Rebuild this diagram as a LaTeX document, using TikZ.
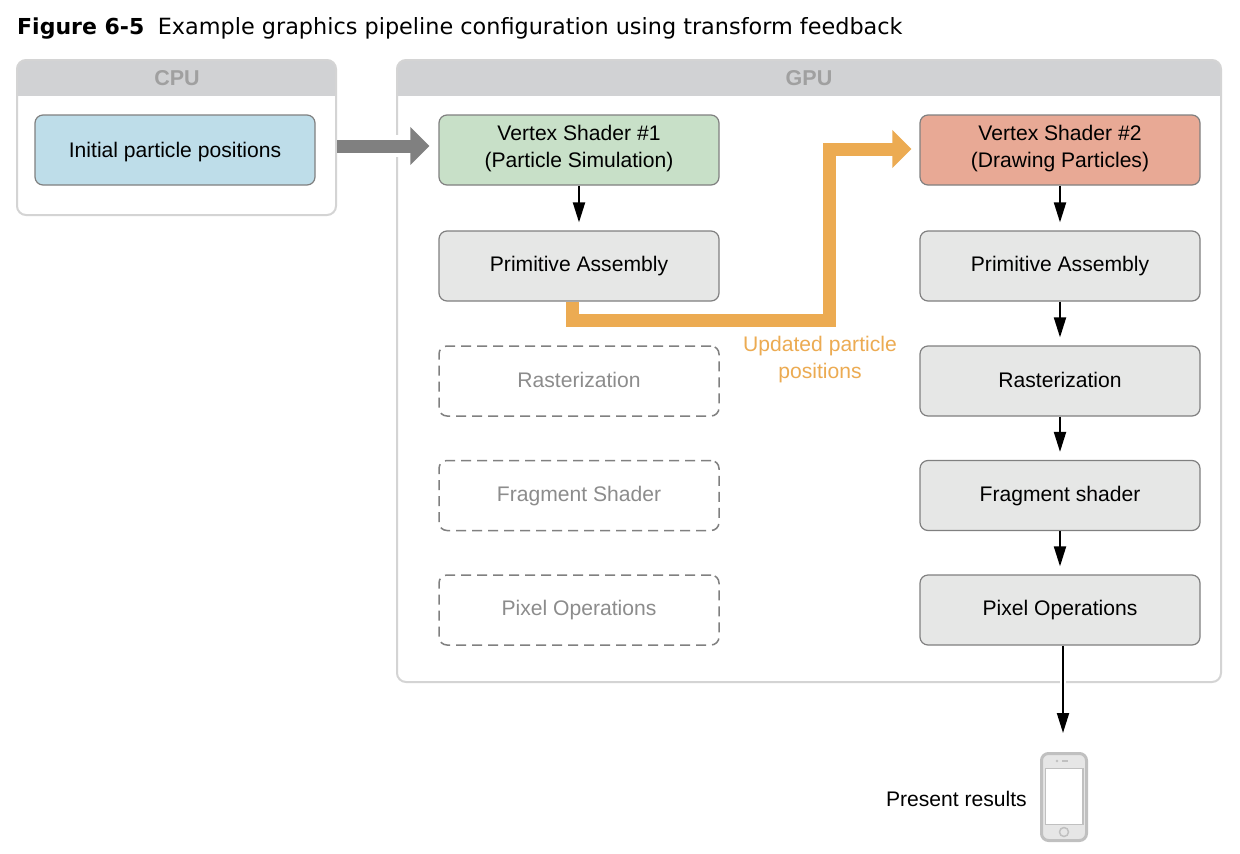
\documentclass[tikz,border=0pt]{standalone}
\usepackage{fontspec}
\setmainfont{Liberation Sans}
\newfontfamily\titlefont{DejaVu Sans}
\usetikzlibrary{arrows.meta}
\definecolor{hdr}{HTML}{D1D2D4}
\definecolor{pborder}{HTML}{D4D4D4}
\definecolor{bblue}{HTML}{BEDDE9}
\definecolor{bgreen}{HTML}{C8E0C8}
\definecolor{bred}{HTML}{E8A995}
\definecolor{bgrey}{HTML}{E6E7E6}
\definecolor{bline}{HTML}{808080}
\definecolor{dimtext}{HTML}{8C8C8C}
\definecolor{hdrtext}{HTML}{A0A0A0}
\definecolor{flow}{HTML}{ECAB52}
\definecolor{phoneline}{HTML}{C0C0C0}
\definecolor{phonefill}{HTML}{E6E6E6}
\newcommand{\nudge}[2]{\raisebox{#1pt}[\height][\depth]{#2}}
\tikzset{
  x=1pt,y=-1pt,
  body/.style={font=\fontsize{21.1}{27}\selectfont,align=center,inner sep=0pt},
  stagebox/.style={body,draw=bline,line width=1.2pt,rounded corners=8pt,minimum width=280pt,minimum height=70pt,text=black},
  grey/.style={stagebox,fill=bgrey},
  ghost/.style={stagebox,line width=1.5pt,dash pattern=on 10pt off 6pt,text=dimtext},
  header fill/.style={path picture={\fill[hdr,sharp corners] (path picture bounding box.north west) rectangle ([yshift=-36pt]path picture bounding box.north east);}},
  panel/.style={draw=pborder,line width=2pt,rounded corners=9pt,fill=white,inner sep=0pt,header fill},
  headtext/.style={font=\fontsize{21.5}{24}\selectfont\bfseries,text=hdrtext,inner sep=0pt},
  thin arrow/.style={draw=black,line width=2pt,-{Triangle[length=20pt,width=12pt]},shorten >=8pt},
  fat arrow/.style={line width=13pt,-{Triangle[length=19pt,width=37pt]}},
}
\begin{document}
\begin{tikzpicture}
\useasboundingbox (0,0) rectangle (1240,854);
\fill[white] (0,0) rectangle (1240,854);

\node[anchor=west,inner sep=0pt,font=\titlefont\fontsize{22.35}{25}\selectfont] (title) at (17,28)
  {{\fontsize{22}{25}\selectfont\textbf{Figure 6-5}}\hspace{13.5pt}Example graphics pipeline configuration using transform feedback};

% panels
\node[panel,minimum width=319pt,minimum height=155pt] (cpu) at (176.5,137.5) {};
\node[headtext] (cpulabel) at (177,78) {CPU};
\node[panel,minimum width=824pt,minimum height=622pt] (gpu) at (809,371) {};
\node[headtext] (gpulabel) at (809,78) {GPU};

% boxes
\node[stagebox,fill=bblue] (init) at (175,150) {\nudge{-2}{Initial particle positions}};

\node[stagebox,fill=bgreen] (vs1) at (579,150) {\nudge{1}{Vertex Shader \#1}\\\nudge{1}{(Particle Simulation)}};
\node[grey] (pa1) at (579,266) {Primitive Assembly};
\node[ghost] (ra1) at (579,381) {\nudge{1}{Rasterization}};
\node[ghost] (fs1) at (579,495.5) {\nudge{-1}{Fragment Shader}};
\node[ghost] (po1) at (579,610) {Pixel Operations};

\node[stagebox,fill=bred] (vs2) at (1060,150) {\nudge{1}{Vertex Shader \#2}\\\nudge{1}{(Drawing Particles)}};
\node[grey] (pa2) at (1060,266) {Primitive Assembly};
\node[grey] (ra2) at (1060,381) {\nudge{1}{Rasterization}};
\node[grey] (fs2) at (1060,495.5) {\nudge{-1}{Fragment shader}};
\node[grey] (po2) at (1060,610) {Pixel Operations};

% phone
\node[draw=phoneline,fill=phonefill,line width=3pt,rounded corners=7pt,minimum width=45pt,minimum height=87pt,inner sep=0pt] (phone) at (1064,797) {};
\fill[white,draw=phoneline,line width=1.5pt] (1045.5,768.5) rectangle (1083,824.5);
\draw[phoneline,line width=1.5pt] (1064,832) circle (4.5);
\fill[phoneline] (1057,761) circle (1.3);
\draw[phoneline,line width=1.3pt] (1062,761) -- (1068,761);
\node[body,anchor=east] (present) at (1027,799) {Present results};

% gaps in the GPU border where arrows cross it
\fill[white] (394,135) rectangle (400,157);
\fill[white] (1059.5,679) rectangle (1065.5,685);

% connectors
\draw[fat arrow,draw=bline,shorten >=9pt] ([yshift=4pt]init.east-|cpu.east) -- ([yshift=4pt]vs1.west);

\coordinate (flowa) at (572.5,320);
\coordinate (flowb) at (829.5,320);
\coordinate (flowc) at (829.5,149);
\draw[fat arrow,draw=flow,shorten >=8pt,line join=miter]
  ([xshift=-6.5pt]pa1.south) -- (flowa) -- (flowb) -- (flowc) -- (flowc-|vs2.west);

\draw[thin arrow] (vs1) -- (pa1);
\draw[thin arrow] (vs2) -- (pa2);
\draw[thin arrow] (pa2) -- (ra2);
\draw[thin arrow] (ra2) -- (fs2);
\draw[thin arrow] (fs2) -- (po2);
\coordinate (phonetop) at (1063,753);
\draw[thin arrow,shorten >=20pt] (po2.south-|phonetop) -- (phonetop);

\node[body,text=flow] (flowlabel) at (820,359.5) {Updated particle\\positions};
\end{tikzpicture}
\end{document}
